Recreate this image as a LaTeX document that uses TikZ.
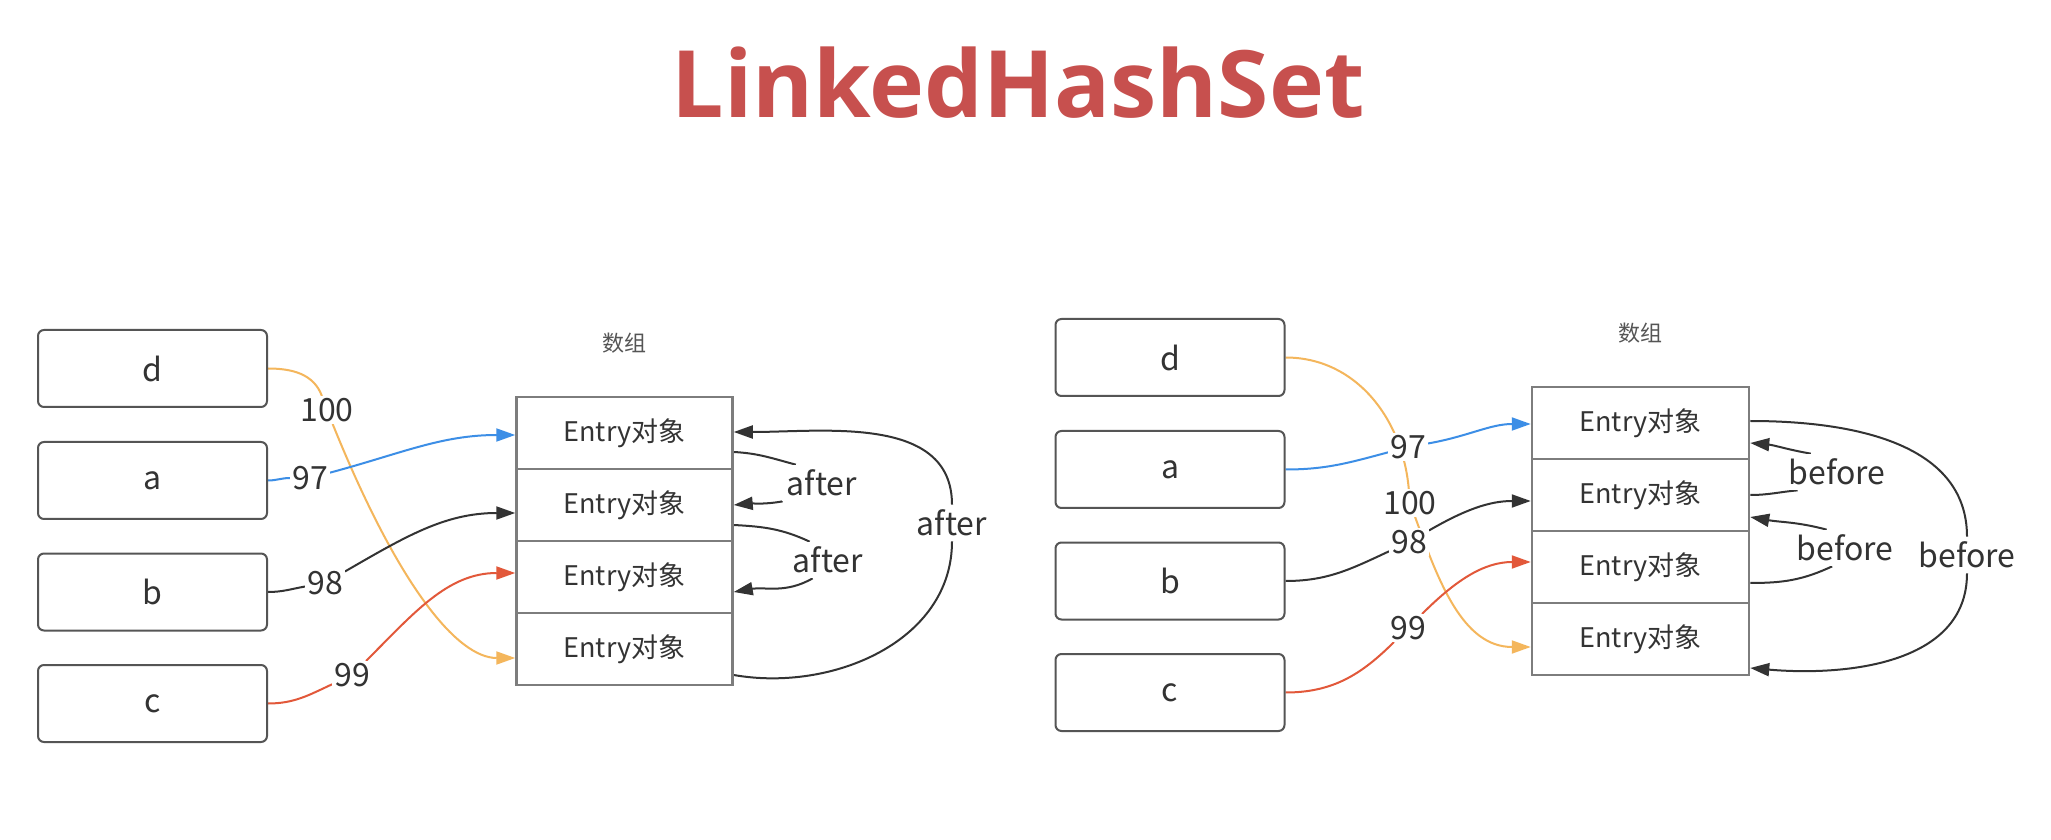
\documentclass[tikz,border=0pt]{standalone}
\usepackage{fontspec}
\setmainfont{Noto Sans CJK SC}
\newfontfamily\titlefont{Open Sans}
\usetikzlibrary{arrows.meta,backgrounds}
\definecolor{titlered}{RGB}{199,80,78}
\definecolor{cOrange}{RGB}{244,182,92}
\definecolor{cBlue}{RGB}{60,142,230}
\definecolor{cRed}{RGB}{226,88,58}
\definecolor{cDark}{RGB}{51,51,51}
\definecolor{boxline}{RGB}{85,85,85}
\definecolor{cellline}{RGB}{125,125,125}
\definecolor{capgray}{RGB}{85,85,85}
\begin{document}
\begin{tikzpicture}[x=1pt,y=1pt,
  keybox/.style={draw=boxline, line width=2pt, rounded corners=6pt, minimum width=229pt, minimum height=77pt, inner sep=0pt, font=\fontsize{32}{36}\selectfont, text=cDark},
  cell/.style={draw=cellline, line width=2.5pt, minimum width=216pt, minimum height=72pt, inner sep=0pt, font=\fontsize{27}{32}\selectfont, text=cDark},
  lab/.style={fill=white, inner sep=2pt, font=\fontsize{32}{36}\selectfont, text=cDark},
  looplab/.style={fill=white, inner sep=5pt, font=\fontsize{32}{36}\selectfont, text=cDark},
  captext/.style={font=\fontsize{22}{26}\selectfont, text=capgray},
  conn/.style={line width=2pt, -{Triangle[length=19pt,width=13pt]}},
  plain/.style={line width=2pt},
]
\useasboundingbox (0,0) rectangle (2051,839);

\node[anchor=base, text=titlered, font=\titlefont\bfseries\fontsize{93}{106}\selectfont] (title) at (1018,721) {LinkedHashSet};

% ---------- left diagram ----------
\node[keybox] (Ld) at (152.5,470.5) {d};
\node[keybox] (La) at (152.5,358.5) {a};
\node[keybox] (Lb) at (152.5,247) {b};
\node[keybox] (Lc) at (152.5,135.5) {c};

\node[captext] (Lcap) at (624,496) {数组};
\node[cell] (Le1) at (624.5,406) {Entry对象};
\node[cell] (Le2) at (624.5,334) {Entry对象};
\node[cell] (Le3) at (624.5,262) {Entry对象};
\node[cell] (Le4) at (624.5,190) {Entry对象};

\node[lab] (L100) at (327,429) {100};
\node[lab] (L97) at (310,361) {97};
\node[lab] (L98) at (325,256) {98};
\node[lab] (L99) at (352,164) {99};

\node[looplab] (A1) at (822,356) {after};
\node[looplab] (A2) at (828,279) {after};
\node[looplab] (A3) at (952,316) {after};

% ---------- right diagram ----------
\node[keybox] (Rd) at (1170,481.5) {d};
\node[keybox] (Ra) at (1170,369.5) {a};
\node[keybox] (Rb) at (1170,258) {b};
\node[keybox] (Rc) at (1170,146.5) {c};

\node[captext] (Rcap) at (1640,506) {数组};
\node[cell, minimum width=217pt] (Re1) at (1640.5,416) {Entry对象};
\node[cell, minimum width=217pt] (Re2) at (1640.5,344) {Entry对象};
\node[cell, minimum width=217pt] (Re3) at (1640.5,272) {Entry对象};
\node[cell, minimum width=217pt] (Re4) at (1640.5,200) {Entry对象};

\node[lab] (R97) at (1408,392) {97};
\node[lab] (R100) at (1410,336) {100};
\node[lab] (R98) at (1409,297) {98};
\node[lab] (R99) at (1408,211) {99};

\node[looplab] (B1) at (1837,367) {before};
\node[looplab] (B2) at (1845,291) {before};
\node[looplab] (B3) at (1967,284) {before};

\begin{scope}[on background layer]
  \fill[white] (0,0) rectangle (2051,839);
  % left connectors
  \draw[conn, cOrange] (Ld.east) to[out=0,in=110] (L100)
     to[out=-68,in=180,out looseness=1.5,in looseness=0.5] ([yshift=-9pt]Le4.west);
  \draw[conn, cBlue] (La.east) to[out=0,in=180] (L97)
     to[out=15,in=180] ([yshift=-2pt]Le1.west);
  \draw[conn, cDark] (Lb.east) to[out=0,in=190] (L98)
     to[out=30,in=180] ([yshift=-8pt]Le2.west);
  \draw[conn, cRed] (Lc.east) to[out=0,in=205] (L99)
     to[out=45,in=180] ([yshift=4pt]Le3.west);
  % after loops
  \draw[plain, cDark] ([yshift=-19pt]Le1.east) to[out=-3,in=165] (A1.145);
  \draw[conn, cDark] (A1.205) to[out=190,in=5] (Le2.east);
  \draw[plain, cDark] ([yshift=-20pt]Le2.east) to[out=-3,in=155] (A2.135);
  \draw[conn, cDark] (A2.230) to[out=210,in=10] ([yshift=-15pt]Le3.east);
  \draw[conn, cDark] ([yshift=-26pt]Le4.east) to[out=-10,in=-90] (A3)
     to[out=90,in=0] ([yshift=1pt]Le1.east);

  % right connectors
  \draw[conn, cOrange] (Rd.east) to[out=0,in=95] (R100)
     to[out=-70,in=180] ([yshift=-8pt]Re4.west);
  \draw[conn, cBlue] (Ra.east) to[out=0,in=195] (R97)
     to[out=10,in=180] ([yshift=-1pt]Re1.west);
  \draw[conn, cDark] (Rb.east) to[out=0,in=205] (R98)
     to[out=30,in=180] ([yshift=-6pt]Re2.west);
  \draw[conn, cRed] (Rc.east) to[out=0,in=225] (R99)
     to[out=45,in=180] ([yshift=5pt]Re3.west);
  % before loops
  \draw[plain, cDark] (Re2.east) to[out=0,in=185] (B1.205);
  \draw[conn, cDark] (B1.145) to[out=170,in=-5] ([yshift=-20pt]Re1.east);
  \draw[plain, cDark] ([yshift=-16pt]Re3.east) to[out=0,in=205] (B2.235);
  \draw[conn, cDark] (B2.135) to[out=165,in=-10] ([yshift=-22pt]Re2.east);
  \draw[conn, cDark] ([yshift=2pt]Re1.east) to[out=0,in=90] (B3)
     to[out=-90,in=-5] ([yshift=-29pt]Re4.east);
\end{scope}
\end{tikzpicture}
\end{document}
